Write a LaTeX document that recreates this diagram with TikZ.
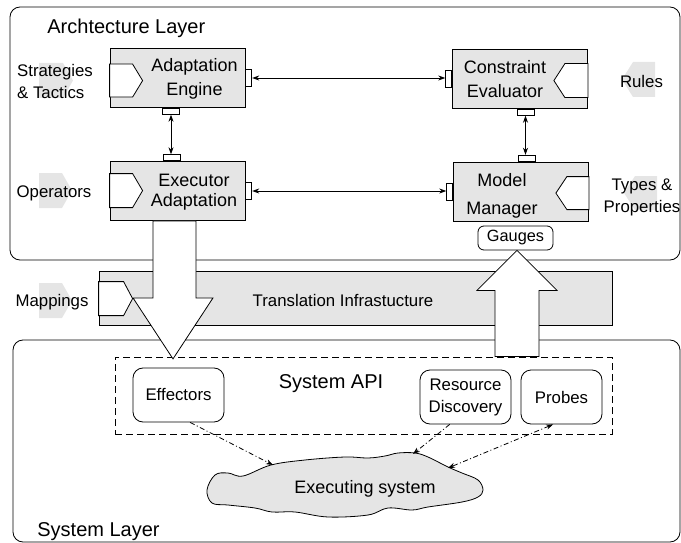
\documentclass[tikz,border=0pt]{standalone}
\usepackage{fontspec}
\setmainfont{Liberation Sans}
\usepackage{tikz}
\usetikzlibrary{arrows.meta}
\usetikzlibrary{positioning}

\begin{document}
\begin{tikzpicture}[>={Stealth[length=7pt,width=5pt]},x=1pt,y=-1pt,line width=0.8pt,node distance=0pt]
\tikzstyle{layer}=[draw,rounded corners=10pt]
\tikzstyle{title}=[anchor=base west,inner sep=0pt,font=\fontsize{20}{24}\selectfont]
\tikzstyle{comp}=[rectangle,draw,fill=gray!20,minimum width=135pt,minimum height=59pt]
\tikzstyle{ctext}=[align=center,inner sep=0pt,font=\fontsize{18}{24}\selectfont]
\tikzstyle{vport}=[rectangle,draw,fill=white,minimum width=6pt,minimum height=17pt,inner sep=0pt]
\tikzstyle{hport}=[rectangle,draw,fill=white,minimum width=17pt,minimum height=6pt,inner sep=0pt]
\tikzstyle{plug}=[draw,fill=white]
\tikzstyle{tab}=[fill=gray!20]
\tikzstyle{lbl}=[inner sep=0pt,font=\fontsize{16.8}{22}\selectfont]
\tikzstyle{api}=[rectangle,draw,rounded corners=10pt,minimum height=54pt,align=center,font=\fontsize{16.8}{22}\selectfont]
\tikzstyle{bigarrow}=[draw,fill=white]
\tikzstyle{probe}=[dash pattern=on 5pt off 2.5pt on 1pt off 2.5pt]
\useasboundingbox (0,0) rectangle (681,543);

% layers
\draw[layer] (10,7) rectangle (680,260);
\draw[layer] (13,340) rectangle (680,542);
\node[title] (archTxt) at (47,33.5) {Archtecture Layer};
\node[title] (sysTxt) at (37,536.5) {System Layer};

% grey tabs behind the outside labels
\fill[tab] (39,63) -- (63,63) -- (73,80.5) -- (63,98) -- (39,98) -- cycle;
\fill[tab] (39,173) -- (62,173) -- (72,190.5) -- (62,208) -- (39,208) -- cycle;
\fill[tab] (39,283) -- (62,283) -- (72,300.5) -- (62,318) -- (39,318) -- cycle;
\fill[tab] (655,62) -- (633,62) -- (622,79.5) -- (633,97) -- (655,97) -- cycle;
\fill[tab] (657,176) -- (635,176) -- (624,193) -- (635,210) -- (657,210) -- cycle;
\node[lbl,align=left] (strategies) at (55,81) {Strategies\\\& Tactics};
\node[lbl] (operators) at (54,193.5) {Operators};
\node[lbl] (mappings) at (52,302.5) {Mappings};
\node[lbl] (rules) at (641.5,81.7) {Rules};
\node[lbl,align=center] (types) at (642,197) {Types \&\\Properties};

% architecture components
\node[comp] (engine) at (177.5,78) {};
\node[ctext] (engineTxt) at (194.5,78.6) {Adaptation\\Engine};
\node[comp] (executor) at (177.5,191) {};
\node[ctext,font=\fontsize{18}{20}\selectfont] (executorTxt) at (194,192) {Executor\\Adaptation};
\node[comp] (evaluator) at (520,79) {};
\node[ctext] (evaluatorTxt) at (505,79.2) {Constraint\\Evaluator};
\node[comp] (manager) at (521,191.5) {};
\node[ctext,font=\fontsize{18}{28}\selectfont] (managerTxt) at (502,195.6) {Model\\Manager};
\draw[plug] ([yshift=-16pt]engine.north west) -- ++(23,0) -- ++(10,16.5) -- ++(-10,16.5) -- ++(-23,0) -- cycle;
\draw[plug] ([yshift=-12.5pt]executor.north west) -- ++(23,0) -- ++(10,17) -- ++(-10,17) -- ++(-23,0) -- cycle;
\draw[plug] ([yshift=-14.5pt]evaluator.north east) -- ++(-23,0) -- ++(-11,17) -- ++(11,17) -- ++(23,0) -- cycle;
\draw[plug] ([yshift=-15pt]manager.north east) -- ++(-22,0) -- ++(-11,16.5) -- ++(11,16.5) -- ++(22,0) -- cycle;

% ports
\node[vport,right=of engine] (engineR) {};
\node[hport,below=of engine,xshift=-6.5pt] (engineB) {};
\node[vport,right=of executor] (executorR) {};
\node[hport,above=of executor,xshift=-6pt] (executorT) {};
\node[vport,left=of evaluator] (evaluatorL) {};
\node[hport,below=of evaluator,xshift=5.5pt] (evaluatorB) {};
\node[vport,left=of manager] (managerL) {};
\node[hport,above=of manager,xshift=5.5pt] (managerT) {};
\path[<->] (engineR) edge (engineR -| evaluatorL.west)
	(executorR) edge (executorR -| managerL.west)
	(engineB) edge (engineB |- executorT.north)
	(evaluatorB) edge (evaluatorB |- managerT.north);

% translation
\node[rectangle,draw,fill=gray!20,minimum width=513pt,minimum height=54pt] (transl) at (355.5,298) {};
\node[lbl] (translTxt) at (343,300) {Translation Infrastucture};
\draw[plug] ([yshift=-11pt]transl.north west) -- ++(25,0) -- ++(9,17) -- ++(-9,17) -- ++(-25,0) -- cycle;

% system API
\node[draw,dash pattern=on 7pt off 4pt,minimum width=497pt,minimum height=77pt] (api) at (363.5,395.5) {};
\node[title,anchor=base] (apiTxt) at (331,388) {System API};
\node[api,minimum width=91pt] (effectors) at (178.5,395) {Effectors};
\node[api,minimum width=91pt] (discovery) at (465.5,397) {Resource\\Discovery};
\node[api,minimum width=81pt] (probes) at (561.5,397) {Probes};
\node[api,minimum width=75pt,minimum height=24pt,rounded corners=6pt,inner sep=0pt,font=\fontsize{16.3}{20}\selectfont] (gauges) at (515.5,238) {Gauges};

% executing system
\filldraw[fill=gray!20] plot[smooth cycle,tension=0.6] coordinates {(207,490) (215,475) (228,473) (243,476) (271,465) (305,460) (345,457) (368,458) (385,456) (398,453) (415,453) (428,457) (448,467) (462,473) (478,480) (483,490) (478,497) (462,502) (428,507) (412,510) (388,508) (368,515) (328,517) (295,512) (272,512) (255,508) (228,505) (212,503)};
\node[font=\fontsize{18}{22}\selectfont] (cloud) at (365,489) {Executing system};
\coordinate (cloudE) at (273,465);
\coordinate (cloudR) at (413,454);
\coordinate (cloudP) at (448,468);
\path[->,probe] (effectors.-67) edge (cloudE)
	(discovery.-120) edge (cloudR);
\path[<->,probe] (probes.-107) edge (cloudP);

% big arrows
\draw[bigarrow] ([xshift=-24.5pt]executor.south) -- ++(0,77) -- ++(-20,0) -- ++(40,61) -- ++(40,-61) -- ++(-17,0) -- ++(0,-77) -- cycle;
\draw[bigarrow] ([xshift=1.5pt]gauges.south) -- ++(40,40) -- ++(-18,0) -- ++(0,66) -- ++(-44,0) -- ++(0,-66) -- ++(-18,0) -- cycle;
\end{tikzpicture}
\end{document}
